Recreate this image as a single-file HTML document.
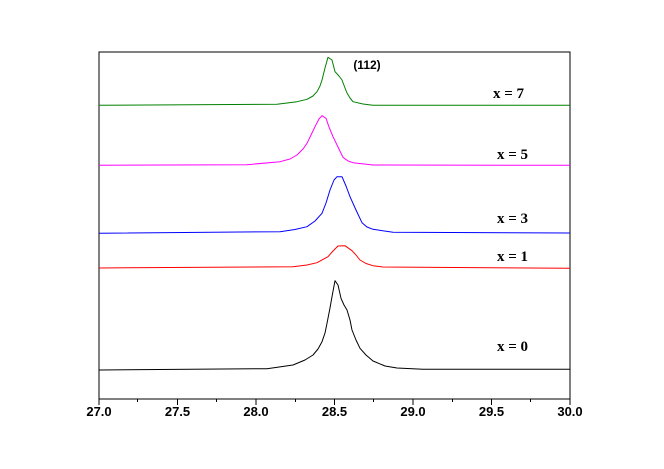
<!DOCTYPE html><html><head><style>body{margin:0;background:#fff}svg{display:block}</style></head><body>
<svg width="664" height="469" xmlns="http://www.w3.org/2000/svg">
<rect x="99" y="52" width="471" height="347" fill="none" stroke="#000" stroke-width="1"/>
<g stroke="#000" stroke-width="1">
<line x1="99" y1="399" x2="99" y2="405"/><line x1="137.5" y1="399" x2="137.5" y2="402"/>
<line x1="177.5" y1="399" x2="177.5" y2="405"/><line x1="216.5" y1="399" x2="216.5" y2="402"/>
<line x1="256" y1="399" x2="256" y2="405"/><line x1="295.5" y1="399" x2="295.5" y2="402"/>
<line x1="334.5" y1="399" x2="334.5" y2="405"/><line x1="373.5" y1="399" x2="373.5" y2="402"/>
<line x1="413" y1="399" x2="413" y2="405"/><line x1="452.5" y1="399" x2="452.5" y2="402"/>
<line x1="491.5" y1="399" x2="491.5" y2="405"/><line x1="530.5" y1="399" x2="530.5" y2="402"/>
<line x1="570" y1="399" x2="570" y2="405"/>
</g>
<g font-family="Liberation Sans, sans-serif" font-weight="bold" font-size="13" text-anchor="middle">
<text x="99" y="416">27.0</text><text x="177.5" y="416">27.5</text><text x="256" y="416">28.0</text>
<text x="334.5" y="416">28.5</text><text x="413" y="416">29.0</text><text x="491.5" y="416">29.5</text><text x="570" y="416">30.0</text>
<text x="367" y="69" font-size="12">(112)</text>
</g>
<g fill="none" stroke-width="1" stroke-linejoin="round">
<polyline stroke="#008000" points="99,105.3 277,104.3 297,101.7 307,99.3 313,96 317,91.7 320,86 322,80 325,68 328,57.3 332,60 335,71.7 339,76 342,80 345,88 347,93 350,98 353,101.7 363,104 373,105.3 570,105.3"/>
<polyline stroke="#ff00ff" points="99,165.3 247,164.7 280,161.7 290,159 297,155 303,149 307,143.3 311,135 315,126.7 319,119 322,115.7 326,118.3 329,127 333,136.7 338,147 343,157.3 348,161 353,162.7 373,165 570,165.3"/>
<polyline stroke="#0000ff" points="99,233.3 280,231.7 295,229.5 307,226.7 315,221 322,213.3 326,203 330,190 334,180 337,176.7 342,176.7 346,186 350,196.7 356,210 362,222.7 367,227 373,229.3 393,232.3 570,233"/>
<polyline stroke="#ff0000" points="99,268 293,266.7 307,265 317,262.7 328,256.7 333,251 338,246 345,245.7 352,250.7 356,255 360,260 366,263.5 373,265.7 383,267 570,268.3"/>
<polyline stroke="#000" points="99,370 267,368.7 293,365 305,360 313,355 318,349 322,341.7 325,333 327,323.3 330,308 332,296.7 335,280.7 338,285 341,298.3 344,305 347,310 350,320 352,330 356,340 360,348.3 366,355 373,361 385,366 397,368 423,369.3 570,369.3"/>
</g>
<g font-family="Liberation Serif, serif" font-weight="bold" font-size="15">
<text x="493" y="98">x = 7</text><text x="497" y="159">x = 5</text><text x="497" y="223">x = 3</text>
<text x="497" y="261">x = 1</text><text x="497" y="351">x = 0</text>
</g>
</svg></body></html>
